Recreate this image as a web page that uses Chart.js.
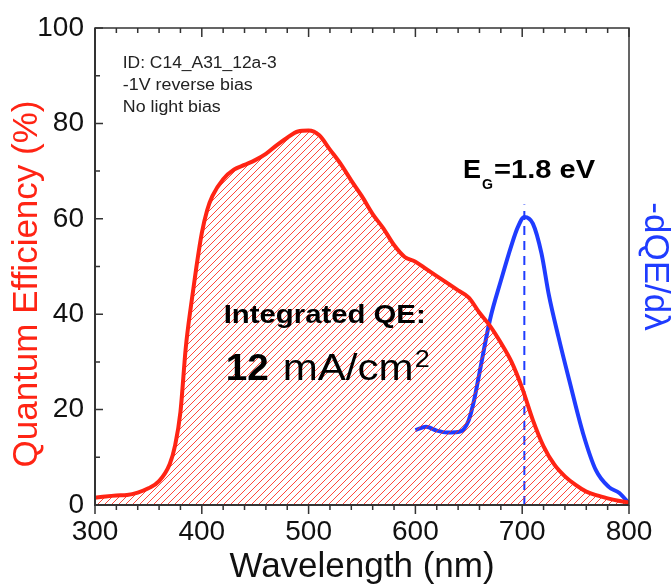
<!DOCTYPE html>
<html>
<head>
<meta charset="utf-8">
<script src="https://cdn.jsdelivr.net/npm/chart.js@4"></script>
<style>
  body { margin: 0; background: #fff; }
  canvas { display: block; }
</style>
</head>
<body>
<canvas id="qeChart" width="672" height="587"></canvas>
<script>
// QE spectrum (red, left axis)
const wavelength = [300, 310, 320, 330, 340, 350, 360, 370, 375, 380, 385, 390, 395, 400, 405, 410, 420, 430, 440, 450,
                    460, 470, 480, 490, 500, 510, 520, 530, 540, 550, 560, 570, 580, 590, 600, 610, 620, 630, 640, 650,
                    660, 670, 680, 690, 700, 710, 720, 730, 740, 750, 760, 770, 780, 790, 800];
const qe = [1.5, 1.8, 2.0, 2.1, 2.6, 3.5, 5.0, 8.6, 12.5, 19.5, 33, 42, 50, 57, 61.8, 64.8, 68.3, 70.3, 71.3, 72.3,
            73.6, 75.4, 77.0, 78.3, 78.5, 77.5, 74.5, 71.5, 68.0, 64.7, 61.0, 58.0, 54.5, 52.0, 51.0, 49.5, 48.0, 46.5, 45.0, 43.5,
            40.3, 37.5, 34.0, 30.0, 24.5, 17.8, 12.3, 8.5, 6.0, 4.2, 2.8, 2.0, 1.4, 0.9, 0.5];

// derivative -dQE/dλ (blue, right axis, arbitrary units)
const derivWavelength = [600, 610, 620, 630, 640, 645, 650, 655, 660, 670, 680, 690, 696, 702, 710, 718, 725, 734, 744, 757, 769, 781, 791, 800];
const derivValue = [15.7, 16.4, 15.6, 15.2, 15.3, 15.8, 17.8, 22, 27.7, 39, 47, 54.5, 58.3, 60.4, 59, 52.8, 44, 35.2, 26.2, 15, 7.3, 3.8, 2.5, 0.3];

// band gap marker
const egLineX = [702, 702];
const egLineY = [0, 63];

const xTicks = [300, 400, 500, 600, 700, 800];
const yTicks = [0, 20, 40, 60, 80, 100];

const RED = '#ff2414';
const BLUE = '#1f3cff';
const FONT = '"Liberation Sans", Arial, Helvetica, sans-serif';

const canvas = document.getElementById('qeChart');
const ctx = canvas.getContext('2d');

function makeHatch() {
    const s = 7;
    const c = document.createElement('canvas');
    c.width = s; c.height = s;
    const g = c.getContext('2d');
    g.strokeStyle = 'rgba(255, 40, 25, 0.85)';
    g.lineWidth = 1;
    g.beginPath();
    g.moveTo(0, s); g.lineTo(s, 0);
    g.moveTo(-1, 1); g.lineTo(1, -1);
    g.moveTo(s - 1, s + 1); g.lineTo(s + 1, s - 1);
    g.stroke();
    return ctx.createPattern(c, 'repeat');
}

// text stretched to a given width
function drawText(c, text, x, y, font, color, width) {
    c.save();
    c.font = font;
    c.fillStyle = color;
    c.textBaseline = 'alphabetic';
    c.textAlign = 'left';
    const w = c.measureText(text).width;
    const sx = width ? width / w : 1;
    c.translate(x, y);
    c.scale(sx, 1);
    c.fillText(text, 0, 0);
    c.restore();
}

const frame = {
    id: 'frame',
    afterDatasetsDraw(chart) {
        const c = chart.ctx;
        const a = chart.chartArea;
        const xs = chart.scales.x;
        const ys = chart.scales.y;
        c.save();
        c.strokeStyle = '#333';
        c.lineWidth = 1.5;
        c.strokeRect(a.left, a.top, a.right - a.left, a.bottom - a.top);
        c.lineWidth = 2;
        c.beginPath();
        c.moveTo(a.left, a.top); c.lineTo(a.left, a.bottom); c.lineTo(a.right, a.bottom);
        c.stroke();
        c.lineWidth = 1.5;
        c.beginPath();
        for (let v = 300; v <= 800; v += 20) {
            const px = xs.getPixelForValue(v);
            const len = v % 100 === 0 ? 9 : 5;
            c.moveTo(px, a.bottom); c.lineTo(px, a.bottom + len);
            c.moveTo(px, a.top); c.lineTo(px, a.top + len);
        }
        for (let v = 0; v <= 100; v += 10) {
            const py = ys.getPixelForValue(v);
            const len = v % 20 === 0 ? 8 : 5;
            c.moveTo(a.left, py); c.lineTo(a.left + len, py);
        }
        c.stroke();

        // left axis title, sitting a bit below the axis centre as in the original
        c.save();
        c.translate(27, 284);
        c.rotate(-Math.PI / 2);
        c.font = '35px ' + FONT;
        c.fillStyle = RED;
        c.textAlign = 'center';
        c.textBaseline = 'middle';
        c.fillText('Quantum Efficiency (%)', 0, 0);
        c.restore();

        // annotations
        const px = v => xs.getPixelForValue(v);
        const py = v => ys.getPixelForValue(v);
        const x0 = px(326), y0 = py(91.6);
        drawText(c, 'ID: C14_A31_12a-3', x0, y0, '16px ' + FONT, '#222', 154);
        drawText(c, '-1V reverse bias', x0, y0 + 22, '16px ' + FONT, '#222', 130);
        drawText(c, 'No light bias', x0, y0 + 44, '16px ' + FONT, '#222', 98);

        const ix = px(420.5), iy = py(38.2);
        drawText(c, 'Integrated QE:', ix, iy, 'bold 25px ' + FONT, '#000', 202);
        drawText(c, '12', ix + 2, iy + 57, 'bold 37px ' + FONT, '#000', 43);
        drawText(c, 'mA/cm', ix + 59, iy + 57, '37px ' + FONT, '#000', 131);
        drawText(c, '2', ix + 191, iy + 44, '23px ' + FONT, '#000', 15);

        const ex = px(644.6), ey = py(68.6);
        drawText(c, 'E', ex, ey, 'bold 25px ' + FONT, '#000', 18);
        drawText(c, 'G', ex + 19, ey + 11, 'bold 14px ' + FONT, '#000', 11);
        drawText(c, '=1.8 eV', ex + 31, ey, 'bold 25px ' + FONT, '#000', 101);
        c.restore();
    }
};

const chart = new Chart(ctx, {
    type: 'line',
    data: {
        datasets: [
            {
                label: 'Quantum Efficiency',
                data: wavelength.map((w, i) => ({ x: w, y: qe[i] })),
                borderColor: RED,
                backgroundColor: makeHatch(),
                borderWidth: 4,
                fill: 'origin',
                pointRadius: 0,
                cubicInterpolationMode: 'monotone',
                yAxisID: 'y'
            },
            {
                label: '-dQE/dλ',
                data: derivWavelength.map((w, i) => ({ x: w, y: derivValue[i] })),
                borderColor: BLUE,
                borderWidth: 4,
                fill: false,
                pointRadius: 0,
                cubicInterpolationMode: 'monotone',
                yAxisID: 'y1'
            },
            {
                label: 'Eg',
                data: egLineX.map((w, i) => ({ x: w, y: egLineY[i] })),
                borderColor: BLUE,
                borderWidth: 2,
                borderDash: [9, 6],
                fill: false,
                pointRadius: 0,
                yAxisID: 'y1'
            }
        ]
    },
    options: {
        responsive: false,
        animation: false,
        layout: { padding: { top: 28, left: 0, right: 0, bottom: 0 } },
        plugins: {
            legend: { display: false },
            tooltip: { enabled: false }
        },
        scales: {
            x: {
                type: 'linear',
                min: 300,
                max: 800,
                afterBuildTicks: s => { s.ticks = xTicks.map(v => ({ value: v })); },
                afterFit: s => { s.height = 82; },
                grid: { display: false, drawTicks: false },
                border: { display: false },
                ticks: { color: '#111', padding: 10, font: { family: FONT, size: 28 } },
                title: {
                    display: true,
                    text: 'Wavelength (nm)',
                    color: '#111',
                    padding: { top: 0, bottom: 2 },
                    font: { family: FONT, size: 35, lineHeight: 1 }
                }
            },
            y: {
                position: 'left',
                min: 0,
                max: 100,
                afterBuildTicks: s => { s.ticks = yTicks.map(v => ({ value: v })); },
                afterFit: s => { s.width = 95; },
                grid: { display: false, drawTicks: false },
                border: { display: false },
                ticks: { color: '#111', padding: 11, font: { family: FONT, size: 28 } },
                title: { display: false }
            },
            y1: {
                position: 'right',
                min: 0,
                max: 100,
                afterFit: s => { s.width = 43; },
                grid: { display: false, drawTicks: false },
                border: { display: false },
                ticks: { display: false },
                title: {
                    display: true,
                    text: '-dQE/dλ',
                    color: BLUE,
                    padding: { top: 0, bottom: 0 },
                    font: { family: FONT, size: 35, lineHeight: 1 }
                }
            }
        }
    },
    plugins: [frame]
});
</script>
</body>
</html>
